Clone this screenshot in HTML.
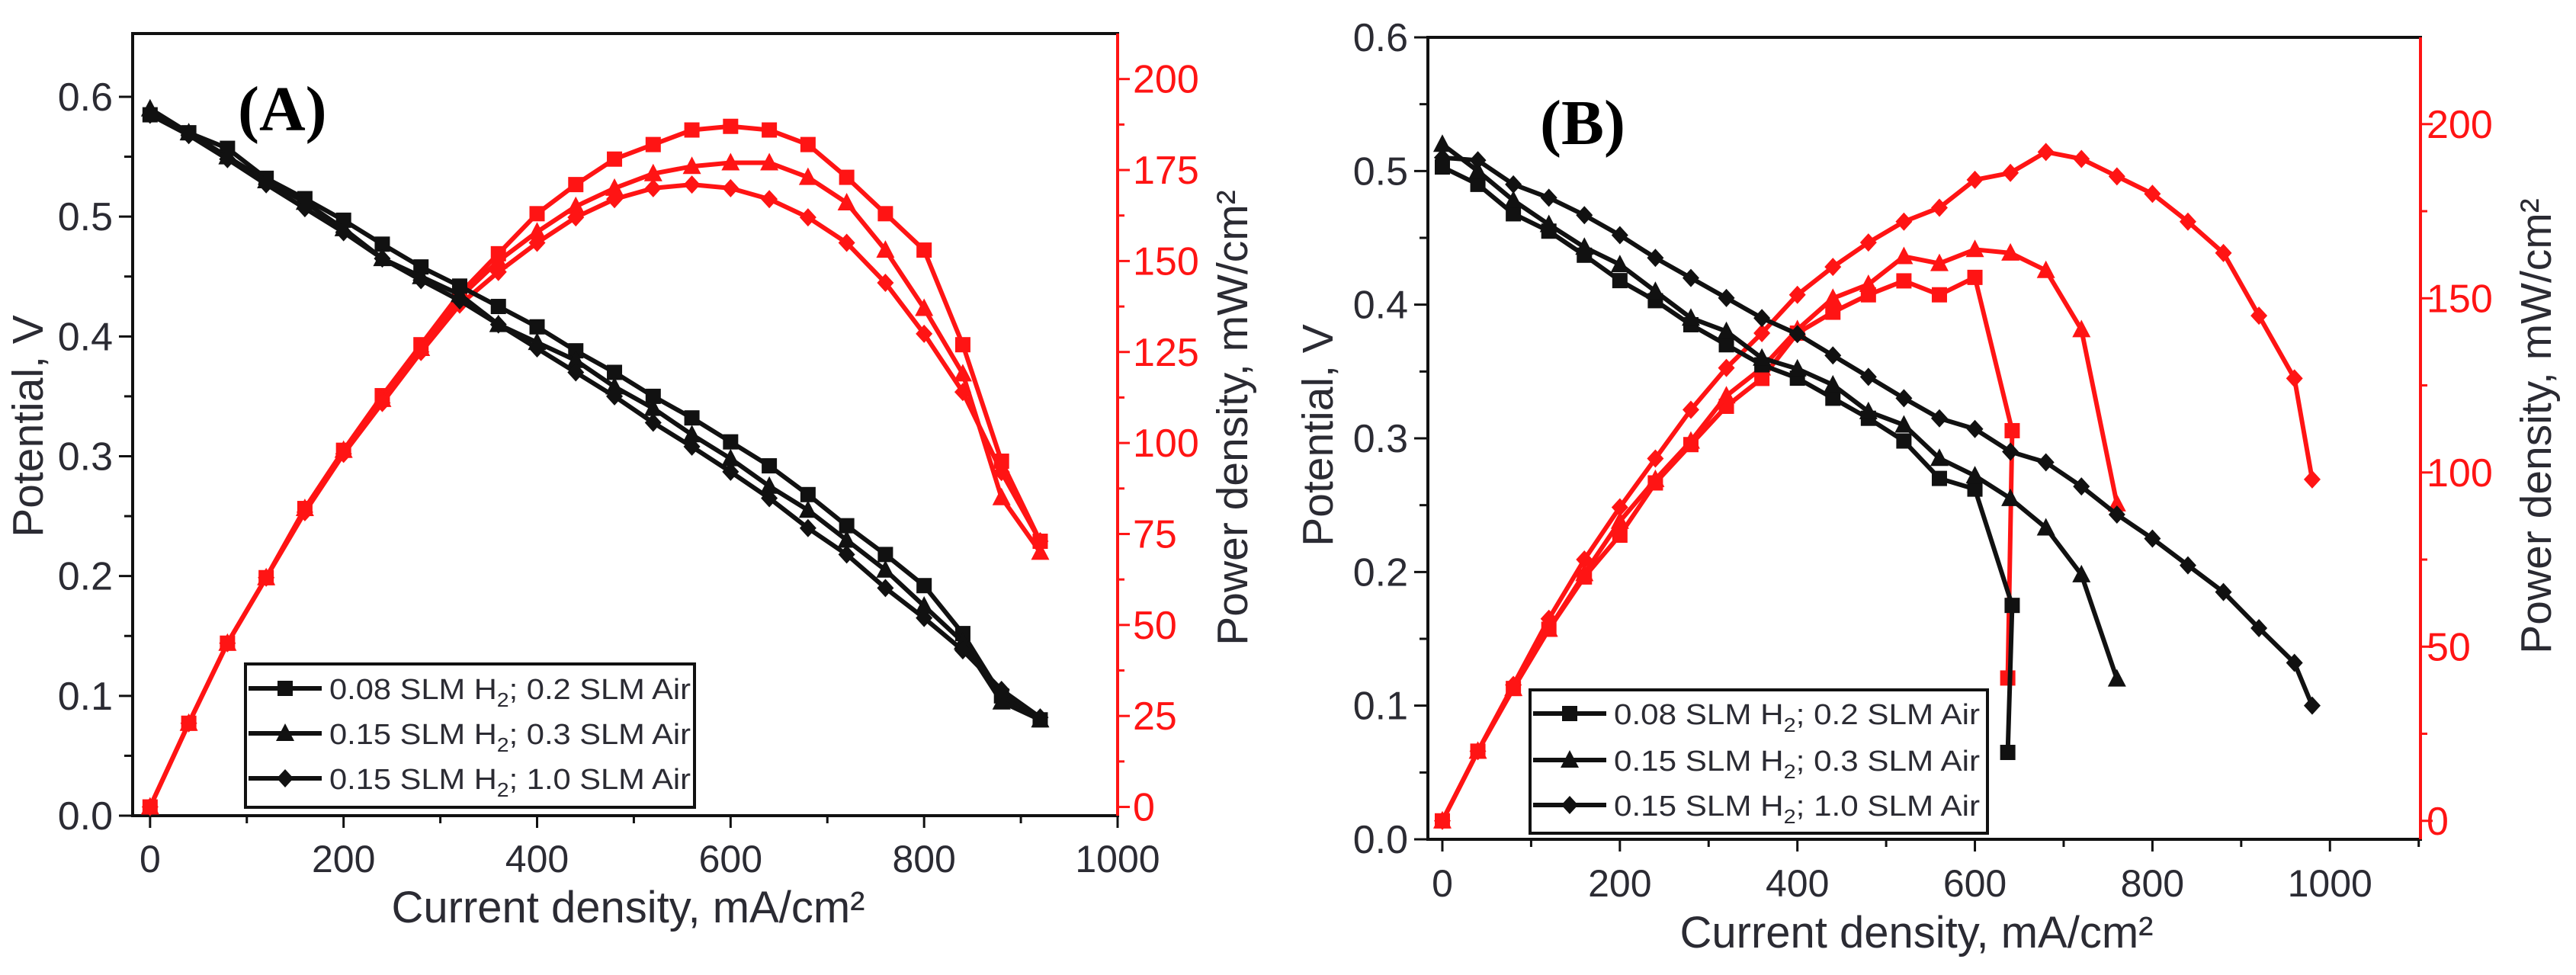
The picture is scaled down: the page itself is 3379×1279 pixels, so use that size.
<!DOCTYPE html>
<html><head><meta charset="utf-8"><style>
html,body{margin:0;padding:0;background:#fff;}
svg{display:block;font-family:"Liberation Sans",sans-serif;}
</style></head><body>
<svg id="fig" width="3379" height="1279" viewBox="0 0 3379 1279" xmlns="http://www.w3.org/2000/svg"></svg>
<script>
// ---- Panel A data ----
const A_I = [0,40,80,120,160,200,240,280,320,360,400,440,480,520,560,600,640,680,720,760,800,840,880,920];
const A_V1 = [0.585,0.57,0.557,0.532,0.515,0.497,0.477,0.458,0.442,0.425,0.408,0.388,0.37,0.35,0.332,0.312,0.292,0.268,0.242,0.218,0.192,0.152,0.1,0.08];
const A_V2 = [0.59,0.57,0.55,0.53,0.512,0.49,0.465,0.45,0.435,0.41,0.395,0.38,0.358,0.34,0.318,0.298,0.275,0.255,0.23,0.205,0.175,0.145,0.095,0.08];
const A_V3 = [0.585,0.568,0.548,0.527,0.507,0.487,0.465,0.447,0.43,0.41,0.39,0.37,0.35,0.328,0.308,0.287,0.265,0.24,0.218,0.19,0.165,0.138,0.105,0.082];
const A_P1 = [0,23,45,63,82,98,113,127,141,152,163,171,178,182,186,187,186,182,173,163,153,127,95,73];
const A_P2 = [0,23,45,63,82,98,112,126,140,150,158,165,170,174,176,177,177,173,166,153,137,119,85,70];
const A_P3 = [0,23,45,63,81,97,111,125,138,147,155,162,167,170,171,170,167,162,155,144,130,114,92,73];
// ---- Panel B data ----
const B_I1 = [0,40,80,120,160,200,240,280,320,360,400,440,480,520,560,600,642,637];
const B_V1 = [0.503,0.49,0.468,0.455,0.437,0.418,0.403,0.385,0.37,0.355,0.345,0.33,0.315,0.298,0.27,0.262,0.175,0.065];
const B_P1 = [0,20,38,55,70,82,97,108,119,127,140,146,151,155,151,156,112,41];
const B_I2 = [0,40,80,120,160,200,240,280,320,360,400,440,480,520,560,600,640,680,720,760];
const B_V2 = [0.52,0.5,0.478,0.46,0.443,0.43,0.41,0.39,0.38,0.36,0.352,0.34,0.32,0.31,0.285,0.272,0.255,0.233,0.198,0.12];
const B_P2 = [0,20,38,55,71,86,98,109,122,130,141,150,154,162,160,164,163,158,141,91];
const B_I3 = [0,40,80,120,160,200,240,280,320,360,400,440,480,520,560,600,640,680,720,760,800,840,880,920,960,980];
const B_V3 = [0.51,0.508,0.49,0.48,0.467,0.452,0.435,0.42,0.405,0.39,0.378,0.362,0.346,0.33,0.315,0.307,0.29,0.282,0.264,0.243,0.225,0.205,0.185,0.158,0.132,0.1];
const B_P3 = [0,20,39,58,75,90,104,118,130,140,151,159,166,172,176,184,186,192,190,185,180,172,163,145,127,98];
// ---- ticks / labels ----
const X_TICKS = [0,200,400,600,800,1000];
const A_VTICKS = [0.0,0.1,0.2,0.3,0.4,0.5,0.6];
const A_PTICKS = [0,25,50,75,100,125,150,175,200];
const B_VTICKS = [0.0,0.1,0.2,0.3,0.4,0.5,0.6];
const B_PTICKS = [0,50,100,150,200];
const LEGEND = ["0.08 SLM H|2|; 0.2 SLM Air","0.15 SLM H|2|; 0.3 SLM Air","0.15 SLM H|2|; 1.0 SLM Air"];

const NS="http://www.w3.org/2000/svg";
const svg=document.getElementById('fig');
function mk(tag,attrs,parent){const e=document.createElementNS(NS,tag);for(const k in attrs)e.setAttribute(k,attrs[k]);(parent||svg).appendChild(e);return e;}
const RED="#ff1414", BLK="#111", TXT="#2b2b33";

function marker(g,shape,x,y,col){
  let e;
  if(shape==='sq'){e=mk('rect',{x:x-10,y:y-10,width:20,height:20,fill:col},g);}
  else if(shape==='tri'){e=mk('polygon',{points:`${x},${y-13} ${x+12},${y+10} ${x-12},${y+10}`,fill:col},g);}
  else {e=mk('polygon',{points:`${x},${y-12} ${x+11},${y} ${x},${y+12} ${x-11},${y}`,fill:col},g);}
  
  
}

function panel(P){
  const g=mk('g',{});
  
  
  const X=v=>P.L+(v-P.xmin)/(P.xmax-P.xmin)*(P.R-P.L);
  const Y=v=>P.B-(v-P.ymin)/(P.ymax-P.ymin)*(P.B-P.T);
  const Y2=v=>P.B-(v-P.pmin)/(P.pmax-P.pmin)*(P.B-P.T);
  const fr=mk('rect',{x:P.L,y:P.T,width:P.R-P.L,height:P.B-P.T,fill:'none',stroke:BLK,'stroke-width':4},g);
  
  
  const ra=mk('line',{x1:P.R,y1:P.T,x2:P.R,y2:P.B,stroke:RED,'stroke-width':4},g);
  
  
  for(let v=0;v<=P.xmax;v+=100){
    const maj=v%200===0;
    mk('line',{x1:X(v),y1:P.B,x2:X(v),y2:P.B+(maj?16:10),stroke:BLK,'stroke-width':3},g);
  }
  X_TICKS.forEach(v=>{
    const t=mk('text',{x:X(v),y:P.xl,'text-anchor':'middle','font-size':50,fill:TXT},g);
    t.textContent=String(v);
    
    
  });
  const vt=P.vticks;
  for(let v=0;v<=vt[vt.length-1]+0.001;v+=0.05){
    const maj=Math.abs(v*10-Math.round(v*10))<0.01;
    mk('line',{x1:P.L,y1:Y(v),x2:P.L-(maj?18:11),y2:Y(v),stroke:BLK,'stroke-width':3},g);
  }
  vt.forEach(v=>{
    const t=mk('text',{x:P.L-26,y:Y(v)+18,'text-anchor':'end','font-size':52,fill:TXT},g);
    t.textContent=v.toFixed(1);
    
    
  });
  const pt=P.pticks, step=pt[1]-pt[0];
  for(let v=0;v<=pt[pt.length-1];v+=step/2){
    const maj=(v%step)===0;
    mk('line',{x1:P.R,y1:Y2(v),x2:P.R+(maj?16:9),y2:Y2(v),stroke:RED,'stroke-width':3},g);
  }
  pt.forEach(v=>{
    const t=mk('text',{x:P.R+P.pl,y:Y2(v)+18,'text-anchor':'start','font-size':52,fill:RED},g);
    t.textContent=String(v);
    
    
  });
  let t=mk('text',{x:P.xtx,y:P.xty,'text-anchor':'middle','font-size':58,fill:TXT},g);
  t.textContent='Current density, mA/cm²';
  
  
  t=mk('text',{transform:`translate(${P.ytx},${P.yty}) rotate(-90)`,'text-anchor':'middle','font-size':57,fill:TXT},g);
  t.textContent='Potential, V';
  
  
  t=mk('text',{transform:`translate(${P.ptx},${P.pty}) rotate(-90)`,'text-anchor':'middle','font-size':57,fill:TXT},g);
  t.textContent='Power density, mW/cm²';
  
  
  t=mk('text',{x:P.lx,y:P.ly,'font-size':84,'font-weight':'bold','font-family':'"Liberation Serif",serif',fill:'#000'},g);
  t.textContent=P.letter;
  
  
  const shapes=['sq','tri','dia'];
  P.series.forEach((s,i)=>{
    const pts=s.I.map((x,k)=>`${X(x)},${Y2(s.P[k])}`).join(' ');
    const pl=mk('polyline',{points:pts,fill:'none',stroke:RED,'stroke-width':6,'stroke-linejoin':'round'},g);
    
    
    s.I.forEach((x,k)=>marker(g,shapes[i],X(x),Y2(s.P[k]),RED));
  });
  P.series.forEach((s,i)=>{
    const pts=s.I.map((x,k)=>`${X(x)},${Y(s.V[k])}`).join(' ');
    const pl=mk('polyline',{points:pts,fill:'none',stroke:BLK,'stroke-width':6,'stroke-linejoin':'round'},g);
    
    
    s.I.forEach((x,k)=>marker(g,shapes[i],X(x),Y(s.V[k]),BLK));
  });
  const lg=mk('g',{},g);
  
  
  const lb=mk('rect',{x:P.lgx,y:P.lgy,width:P.lgw,height:P.lgh,fill:'#fff',stroke:BLK,'stroke-width':4},lg);
  
  
  LEGEND.forEach((lab,i)=>{
    const ry=P.lgy+P.lgr[i];
    mk('line',{x1:P.lgx+4,y1:ry,x2:P.lgx+100,y2:ry,stroke:BLK,'stroke-width':6},lg);
    marker(lg,shapes[i],P.lgx+52,ry,BLK);
    const parts=lab.split('|');
    const tx=mk('text',{x:P.lgx+110,y:ry+14,'font-size':38,fill:TXT,textLength:P.lgtw,lengthAdjust:'spacingAndGlyphs'},lg);
    
    
    const s1=mk('tspan',{},tx);s1.textContent=parts[0];
    const s2=mk('tspan',{dy:10,'font-size':26},tx);s2.textContent=parts[1];
    const s3=mk('tspan',{dy:-10},tx);s3.textContent=parts[2];
  });
}

panel({id:'panel-a',letter:'(A)',L:174,R:1466,T:44,B:1070,xmin:-18,xmax:1000,ymin:0,ymax:0.6528,pmin:-2.4,pmax:212.5,
  vticks:A_VTICKS,pticks:A_PTICKS,xl:1144,pl:20,xtx:824,xty:1210,ytx:56,yty:559,ptx:1636,pty:548,lx:312,ly:171,
  lgx:322,lgy:871,lgw:589,lgh:188,lgr:[32,91,150],lgtw:474,
  series:[{I:A_I,V:A_V1,P:A_P1},{I:A_I,V:A_V2,P:A_P2},{I:A_I,V:A_V3,P:A_P3}]});
panel({id:'panel-b',letter:'(B)',L:1873,R:3175,T:49,B:1101,xmin:-16.3,xmax:1102,ymin:0,ymax:0.6,pmin:-5.3,pmax:224.9,
  vticks:B_VTICKS,pticks:B_PTICKS,xl:1176,pl:8,xtx:2514,xty:1243,ytx:1748,yty:571,ptx:3346,pty:559,lx:2020,ly:189,
  lgx:2007,lgy:905,lgw:600,lgh:188,lgr:[31,92,151],lgtw:480,
  series:[{I:B_I1,V:B_V1,P:B_P1},{I:B_I2,V:B_V2,P:B_P2},{I:B_I3,V:B_V3,P:B_P3}]});
</script>
</body></html>
